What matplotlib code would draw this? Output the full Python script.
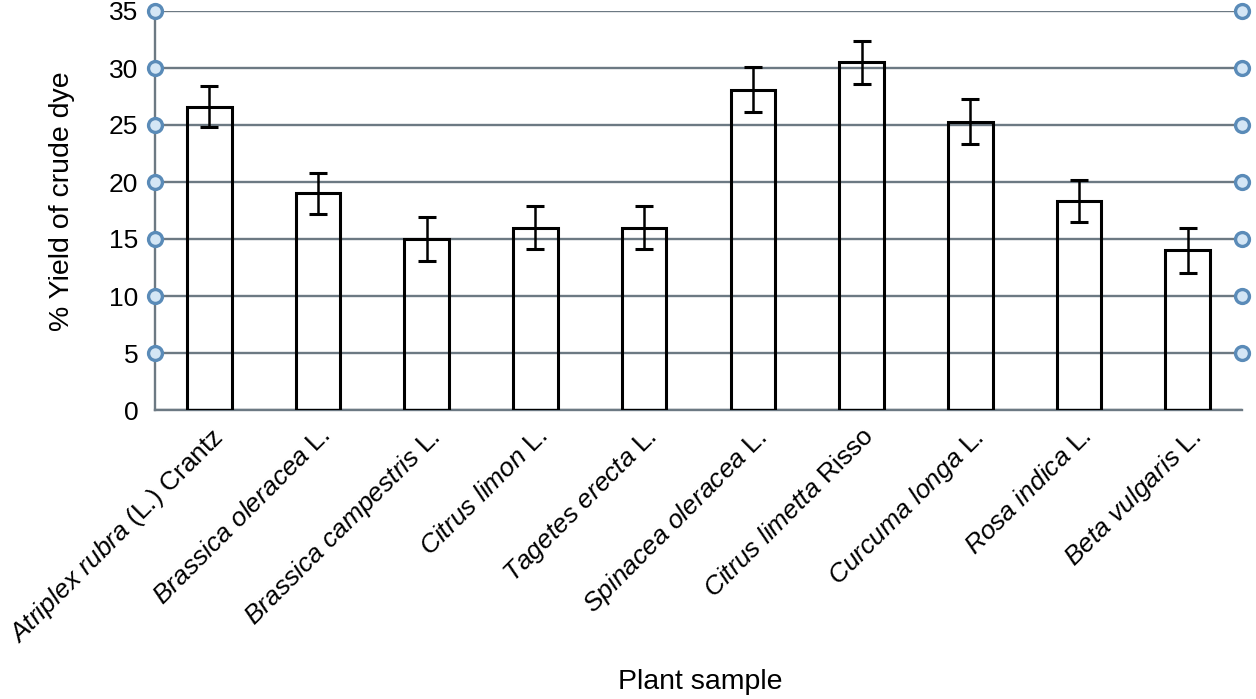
import matplotlib.pyplot as plt
import numpy as np

plt.rcParams['font.family'] = ['Liberation Sans', 'DejaVu Sans']
plt.rcParams['mathtext.fontset'] = 'custom'
plt.rcParams['mathtext.rm'] = 'Liberation Sans'
plt.rcParams['mathtext.it'] = 'Liberation Sans:italic'

# dados
especies = ['Atriplex rubra', 'Brassica oleracea', 'Brassica campestris', 'Citrus limon',
            'Tagetes erecta', 'Spinacea oleracea', 'Citrus limetta', 'Curcuma longa',
            'Rosa indica', 'Beta vulgaris']
autores = ['(L.) Crantz', 'L.', 'L.', 'L.', 'L.', 'L.', 'Risso', 'L.', 'L.', 'L.']
rendimento = [26.6, 19.0, 15.0, 16.0, 16.0, 28.1, 30.5, 25.3, 18.3, 14.0]
erro = [1.8, 1.8, 1.9, 1.9, 1.9, 2.0, 1.9, 2.0, 1.85, 2.0]
yticks = [0, 5, 10, 15, 20, 25, 30, 35]

cor_grade = '#6c7983'

fig = plt.figure(figsize=(12.56, 6.99), dpi=100)
ax = fig.add_axes([155/1256, 1-410/699, (1242-155)/1256, (410-11)/699])

x = np.arange(len(especies))
ax.bar(x, rendimento, width=0.41, fill=False, edgecolor='black', linewidth=2.2, zorder=3)
ax.errorbar(x, rendimento, yerr=erro, fmt='none', ecolor='black', elinewidth=1.8,
            capsize=6.5, capthick=2.2, zorder=4)

ax.set_xlim(-0.5, len(especies) - 0.5)
ax.set_ylim(0, 35)
ax.set_yticks(yticks)
ax.yaxis.grid(True, color=cor_grade, linewidth=1.7, zorder=1)
ax.set_axisbelow(True)
ax.tick_params(axis='y', length=0, pad=12, labelsize=19)
ax.tick_params(axis='x', length=0, pad=10)

for s in ['top', 'right']:
    ax.spines[s].set_visible(False)
for s in ['left', 'bottom']:
    ax.spines[s].set_color(cor_grade)
    ax.spines[s].set_linewidth(1.7)

# marcadores redondos nas pontas da grade
trans = ax.get_yaxis_transform()
for xpos in [0, 1]:
    ax.plot([xpos] * (len(yticks) - 1), yticks[1:], 'o', transform=trans, clip_on=False,
            markersize=10, markerfacecolor='#d4e6f5', markeredgecolor='#5a8bb8',
            markeredgewidth=2.4, zorder=5)

rotulos = []
for esp, aut in zip(especies, autores):
    rotulos.append(r'$\it{' + esp.replace(' ', r'\ ') + '}$ ' + aut)
ax.set_xticks(x)
ax.set_xticklabels(rotulos, rotation=45, ha='right', rotation_mode='anchor', fontsize=19)

fig.text(62/1256, 1-201/699, '% Yield of crude dye', rotation=90, ha='center', va='center',
         fontsize=20.5)
fig.text(700/1256, 1-682/699, 'Plant sample', ha='center', va='center', fontsize=20.5)

plt.savefig('out.png', dpi=100)
